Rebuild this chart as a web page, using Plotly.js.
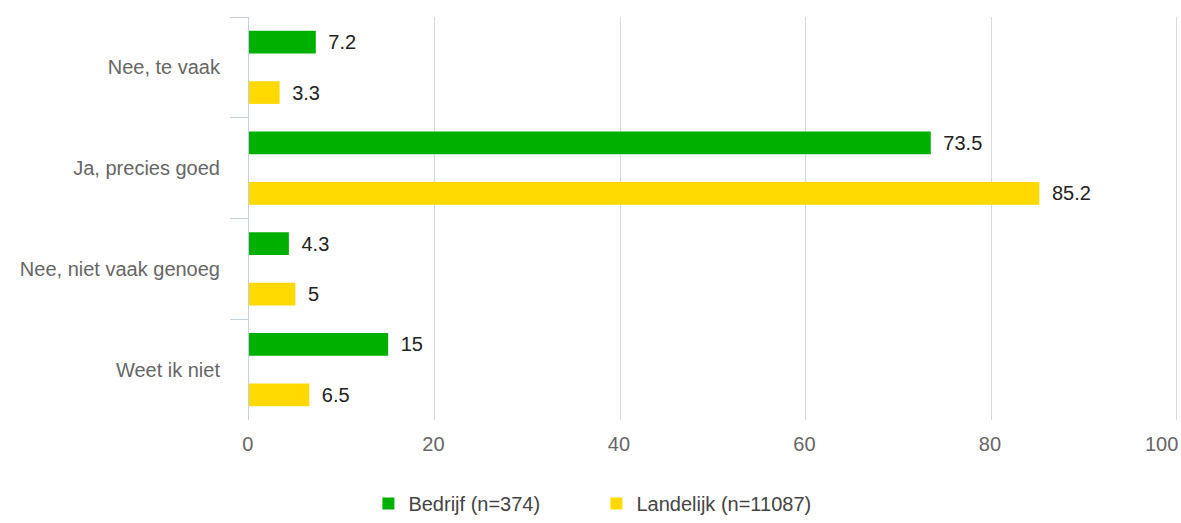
<!DOCTYPE html>
<html><head><meta charset="utf-8">
<script src="https://cdn.plot.ly/plotly-3.0.1.min.js"></script>
<style>html,body{margin:0;padding:0;background:#fff}#chart{width:1181px;height:523px}</style>
</head><body><div id="chart"></div>
<script>
const categories = ["Nee, te vaak", "Ja, precies goed", "Nee, niet vaak genoeg", "Weet ik niet"];
const bedrijf = [7.2, 73.5, 4.3, 15];
const landelijk = [3.3, 85.2, 5, 6.5];
const seriesNames = ["Bedrijf (n=374)", "Landelijk (n=11087)"];
const seriesColors = ["#00b000", "#ffd900"];
const xTicks = [0, 20, 40, 60, 80, 100];
const pad = "\u00a0\u00a0\u00a0\u00a0\u00a0";
const xTickText = [pad + "0", pad + "20", pad + "40", pad + "60", pad + "80", "100"];

const font = "Liberation Sans, Arial, sans-serif";
function tr(vals, name, color) {
  return {
    type: "bar", orientation: "h", x: vals, y: categories, name: name,
    marker: {color: color},
    texttemplate: "\u00a0\u2009%{x}", textposition: "outside", cliponaxis: false,
    textfont: {family: font, size: 20, color: "#222"},
    hoverinfo: "x+name"
  };
}
const data = [
  tr(bedrijf, seriesNames[0], seriesColors[0]),
  tr(landelijk, seriesNames[1], seriesColors[1])
];
const layout = {
  width: 1181, height: 523,
  margin: {l: 249, r: 3, t: 17, b: 103},
  paper_bgcolor: "#fff", plot_bgcolor: "#fff",
  barmode: "group", bargap: 0, bargroupgap: 0.55,
  font: {family: font, size: 20, color: "#666"},
  xaxis: {range: [0, 100.15], tickvals: xTicks, ticktext: xTickText, showgrid: true, gridcolor: "#d8d8d8", gridwidth: 1,
          zeroline: false, showline: false, ticks: "", ticklabelstandoff: 10, ticklabelshift: -15,
          ticklabeloverflow: "allow",
          tickfont: {family: font, size: 20, color: "#666"}, fixedrange: true},
  yaxis: {type: "category", autorange: "reversed", showline: true, linecolor: "#c0d0e0", linewidth: 1,
          ticks: "outside", tickson: "boundaries", ticklen: 18, tickcolor: "#c0d0e0", tickwidth: 1,
          ticklabelstandoff: 24, showgrid: false, zeroline: false,
          tickfont: {family: font, size: 20, color: "#666"}},
  showlegend: true,
  legend: {orientation: "h", xref: "container", yref: "container", x: 0.505, xanchor: "center",
           y: 0.0, yanchor: "bottom", font: {family: font, size: 20, color: "#444"},
           entrywidth: 183, traceorder: "normal"}
};
Plotly.newPlot("chart", data, layout, {displayModeBar: false, staticPlot: true});
</script></body></html>
